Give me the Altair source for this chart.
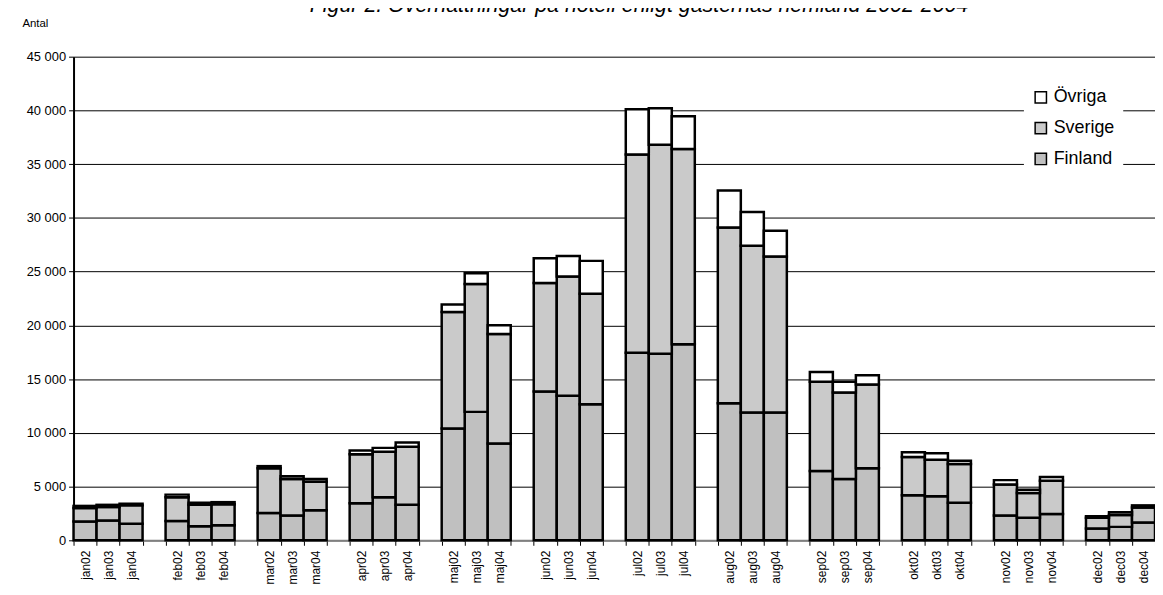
import altair as alt
import pandas as pd

months = ["jan", "feb", "mar", "apr", "maj", "jun", "jul", "aug", "sep", "okt", "nov", "dec"]
years = ["02", "03", "04"]
series = ["Finland", "Sverige", "Övriga"]

finland = [1750, 1850, 1550, 1800, 1300, 1400, 2550, 2300, 2800, 3450, 4000, 3300,
           10400, 11950, 9000, 13850, 13450, 12650, 17450, 17350, 18250, 12750, 11900, 11900,
           6450, 5700, 6700, 4200, 4100, 3500, 2300, 2100, 2450, 1100, 1250, 1650]
sverige = [1250, 1250, 1700, 2200, 2000, 1950, 4150, 3400, 2650, 4550, 4250, 5400,
           10850, 11900, 10200, 10100, 11100, 10300, 18450, 19450, 18150, 16350, 15500, 14500,
           8300, 8050, 7800, 3550, 3400, 3600, 2900, 2300, 3100, 1000, 1100, 1400]
ovriga = [200, 200, 150, 250, 200, 200, 200, 250, 250, 350, 350, 400,
          700, 1000, 800, 2300, 1900, 3050, 4200, 3400, 3050, 3450, 3150, 2400,
          900, 1000, 850, 450, 600, 300, 400, 300, 350, 150, 250, 200]
y_ticks = [0, 5000, 10000, 15000, 20000, 25000, 30000, 35000, 40000, 45000]

# category domain with an empty slot between months
cats = []
domain = []
for i, m in enumerate(months):
    for yr in years:
        cats.append(m + yr)
        domain.append(m + yr)
    if i < len(months) - 1:
        domain.append("_" + str(i + 1))

rows = []
for s_idx, (name, vals) in enumerate(zip(series, [finland, sverige, ovriga])):
    for c, v in zip(cats, vals):
        rows.append({"cat": c, "series": name, "value": v, "ord": s_idx})
df = pd.DataFrame(rows)

FONT = "Liberation Sans"

chart = alt.Chart(df).mark_bar(stroke="black", strokeWidth=2.5).encode(
    x=alt.X(
        "cat:N",
        scale=alt.Scale(domain=domain, paddingInner=0, paddingOuter=0),
        axis=alt.Axis(
            title=None,
            labelAngle=270,
            labelFont=FONT,
            labelFontSize=12,
            labelColor="black",
            labelPadding=5,
            tickBand="extent",
            tickSize=5,
            tickColor="black",
            tickWidth=1,
            domainColor="#808080",
            domainWidth=2,
            grid=False,
            labelExpr="substring(datum.label, 0, 1) == '_' ? '' : datum.label",
        ),
    ),
    y=alt.Y(
        "value:Q",
        stack="zero",
        scale=alt.Scale(domain=[0, 45000], nice=False),
        axis=alt.Axis(
            values=y_ticks,
            labelExpr="replace(format(datum.value, ','), ',', ' ')",
            title="Antal",
            titleAngle=0,
            titleX=-52,
            titleY=-30,
            titleAlign="left",
            titleBaseline="alphabetic",
            titleFont=FONT,
            titleFontSize=11.5,
            titleFontWeight="normal",
            titleColor="black",
            grid=True,
            gridColor="black",
            gridWidth=1,
            domainColor="black",
            domainWidth=2,
            tickSize=5,
            tickColor="black",
            labelFont=FONT,
            labelFontSize=13,
            labelColor="black",
            labelPadding=3,
        ),
    ),
    color=alt.Color(
        "series:N",
        scale=alt.Scale(domain=["Övriga", "Sverige", "Finland"],
                        range=["#FFFFFF", "#CACACA", "#C0C0C0"]),
        legend=alt.Legend(
            title=None,
            orient="none",
            legendX=957,
            legendY=24,
            symbolType="square",
            symbolSize=130,
            symbolStrokeColor="black",
            symbolStrokeWidth=1.5,
            labelFont=FONT,
            labelFontSize=18,
            labelColor="black",
            labelOffset=4,
            fillColor="white",
            padding=8,
            rowPadding=13,
        ),
    ),
    order=alt.Order("ord:Q", sort="ascending"),
).properties(
    width=1089,
    height=487,
    autosize=alt.AutoSizeParams(type="none"),
    padding={"left": 66, "top": 47, "right": 0, "bottom": 45},
    title=alt.TitleParams(
        "Figur 2. Övernattningar på hotell enligt gästernas hemland 2002-2004",
        font=FONT,
        fontSize=21.5,
        fontStyle="italic",
        fontWeight="normal",
        color="black",
        anchor="middle",
        baseline="bottom",
        offset=-21,
        dx=25,
    ),
).configure_view(stroke=None)

chart.save("out.html", embed_options={"renderer": "svg", "actions": False})
